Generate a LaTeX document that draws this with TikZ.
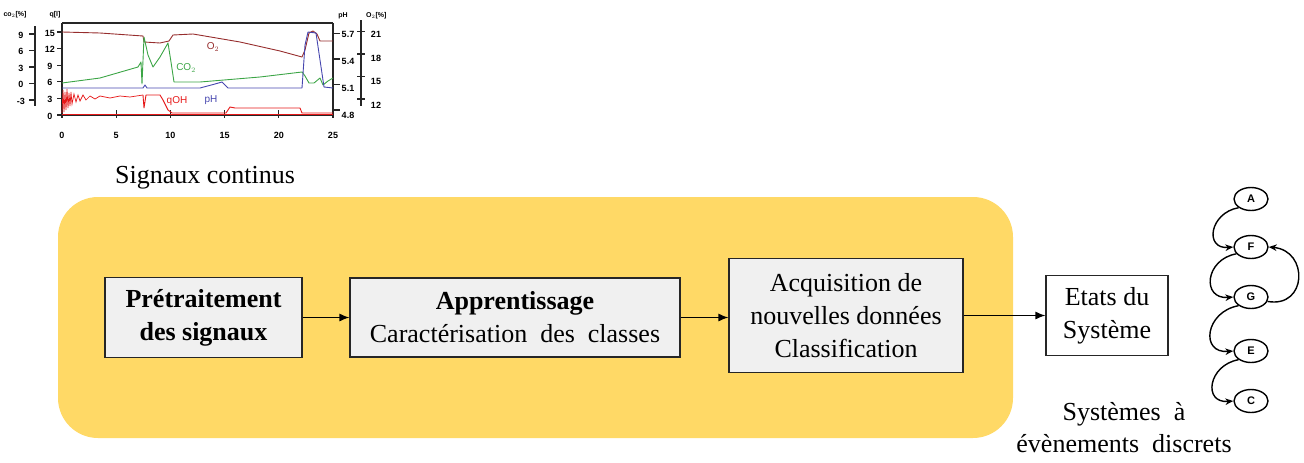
\documentclass[tikz,border=0pt]{standalone}
\usepackage{fontspec}
\setmainfont{Liberation Serif}
\newfontfamily\chartfont{Liberation Sans}
\usetikzlibrary{shapes.geometric,arrows.meta}
\definecolor{gold}{RGB}{255,217,102}
\definecolor{boxgray}{RGB}{240,240,240}
\definecolor{otwo}{RGB}{150,45,45}
\definecolor{cotwo}{RGB}{60,165,70}
\definecolor{phblue}{RGB}{70,70,175}
\definecolor{qred}{RGB}{230,25,25}
\tikzset{
  procbox/.style={draw=black!85, line width=1.1pt, fill=boxgray, align=center, inner sep=0pt,
    font=\fontsize{26}{33}\selectfont},
  flow/.style={line width=1.3pt, -{Latex[length=10pt,width=8pt]}},
  state/.style={ellipse, draw, line width=1.4pt, minimum width=34pt, minimum height=23pt, inner sep=0pt,
    font=\chartfont\bfseries\fontsize{11}{12}\selectfont},
  sedge/.style={line width=1.4pt, -{Stealth[length=8pt,width=6.5pt]}},
  tick/.style={font=\chartfont\bfseries\fontsize{9}{10}\selectfont, inner sep=0pt},
  axisline/.style={line width=1.1pt, black!85},
  curve/.style={line width=0.9pt, line join=round}
}
\begin{document}
\begin{tikzpicture}[x=1pt,y=-1pt]
\useasboundingbox (0,0) rectangle (1304,463);
% yellow zone
\path[fill=gold, rounded corners=40pt] (58,197) rectangle (1013,438);
% chart axes
\draw[axisline] (62,23) -- (333,23);
\draw[axisline] (62,23) -- (62,115) -- (333,115) -- (333,23);
\foreach \k/\lab in {0/0,1/5,2/10,3/15,4/20,5/25}{
  \draw[axisline] ({62+54.2*\k},110) -- ({62+54.2*\k},118);
  \node[tick] (xl\k) at ({62+54.2*\k},135) {\lab};
}
\foreach \k/\lab in {0/0,1/3,2/6,3/9,4/12,5/15}{
  \draw[axisline] (57,{115-16.6*\k}) -- (62,{115-16.6*\k});
  \node[tick] (ql\k) at (50,{116-16.6*\k}) {\lab};
}
\draw[axisline] (35,26) -- (35,106);
\foreach \k/\lab in {0/-3,1/0,2/3,3/6,4/9}{
  \draw[axisline] (29,{100-16.5*\k}) -- (35,{100-16.5*\k});
  \node[tick] (cl\k) at (21,{101-16.5*\k}) {\lab};
}
\foreach \k/\lab in {0/4.8,1/5.1,2/5.4,3/5.7}{
  \draw[axisline] (333,{110-25.5*\k}) -- (340,{110-25.5*\k});
  \node[tick] (pl\k) at (348,{115-27*\k}) {\lab};
}
\draw[axisline] (361,20) -- (361,106);
\foreach \k/\lab in {0/12,1/15,2/18,3/21}{
  \draw[axisline] (357,{99-22.5*\k}) -- (365,{99-22.5*\k});
  \node[tick] (ol\k) at (376,{105-23.5*\k}) {\lab};
}
\node[tick, font=\chartfont\bfseries\fontsize{7}{8}\selectfont] (hco) at (15,15) {co$_2$[\%]};
\node[tick, font=\chartfont\bfseries\fontsize{7}{8}\selectfont] (hq) at (55,15) {q[l]};
\node[tick, font=\chartfont\bfseries\fontsize{7}{8}\selectfont] (hph) at (343,16) {pH};
\node[tick, font=\chartfont\bfseries\fontsize{7}{8}\selectfont, anchor=west] (ho) at (366,16) {O$_2$[\%]};
% O2 curve
\draw[curve, otwo] (62,32) -- (100,33) -- (143,36) -- (144,42) -- (160,43) -- (169,41) -- (173,35) -- (193,34)
  -- (240,42) -- (280,51) -- (302,57) -- (305,50) -- (309,33) -- (313,31) -- (317,34) -- (320,41) -- (333,41);
% CO2 curve
\draw[curve, cotwo] (62,83) -- (100,78) -- (138,67) -- (141,62) -- (142,84) -- (144,37) -- (148,55) -- (153,67)
  -- (160,57) -- (168,43) -- (171,62) -- (174,82) -- (200,82) -- (260,77) -- (302,72) -- (305,76) -- (309,83)
  -- (314,83) -- (320,78) -- (323,85) -- (328,81) -- (333,78);
% pH curve
\draw[curve, phblue] (62,88) -- (143,88) -- (145,85) -- (147,88) -- (200,88) -- (215,84) -- (222,82) -- (228,88)
  -- (302,88) -- (305,45) -- (308,32) -- (316,33) -- (320,60) -- (324,87) -- (333,88);
% qOH curve
\draw[line width=0.7pt, qred] (62,113) -- (63,90) -- (64,112) -- (65,92) -- (66,110) -- (67,89) -- (68,108) -- (69,93)
  -- (70,106) -- (71,92) -- (72,104) -- (74,94) -- (76,102) -- (78,95) -- (80,101) -- (83,95) -- (86,100) -- (90,96)
  -- (95,99) -- (100,96) -- (110,98) -- (120,96) -- (130,97) -- (143,95);
\draw[curve, qred] (143,95) -- (144,108) -- (146,95) -- (160,95) -- (163,100) -- (168,110) -- (172,113)
  -- (190,113) -- (226,113) -- (230,107) -- (235,108) -- (300,108) -- (302,113) -- (333,113);
\draw[curve, qred] (62,114.5) -- (333,114.5);
% curve labels
\node[font=\chartfont\fontsize{10}{11}\selectfont, text=otwo, inner sep=0pt] (lo) at (213,47) {O$_2$};
\node[font=\chartfont\fontsize{10}{11}\selectfont, text=cotwo, inner sep=0pt] (lc) at (186,68) {CO$_2$};
\node[font=\chartfont\fontsize{10}{11}\selectfont, text=qred, inner sep=0pt] (lq) at (177,101) {qOH};
\node[font=\chartfont\fontsize{10}{11}\selectfont, text=phblue, inner sep=0pt] (lp) at (211,100) {pH};
% captions
\node[font=\fontsize{26}{33}\selectfont, inner sep=0pt] (sig) at (205,178) {Signaux continus};
\node[font=\fontsize{26}{32}\selectfont, align=center, inner sep=0pt] (sed) at (1124,428) {Systèmes\ \ à\\évènements\ \ discrets};
% process boxes
\node[procbox, minimum width=197pt, minimum height=80pt] (b1) at (203.5,317.5) {\textbf{Prétraitement}\\\textbf{des signaux}};
\node[procbox, minimum width=330pt, minimum height=79pt] (b2) at (515,317.5) {\textbf{Apprentissage}\\Caractérisation\ \ des\ \ classes};
\node[procbox, minimum width=234pt, minimum height=114pt] (b3) at (846,315.5) {Acquisition de\\nouvelles données\\Classification};
\node[procbox, fill=white, minimum width=122pt, minimum height=80pt] (b4) at (1107,315.5) {Etats du\\Système};
\draw[flow] (b1.east |- 0,317.5) -- (b2.west |- 0,317.5);
\draw[flow] (b2.east |- 0,317.5) -- (b3.west |- 0,317.5);
\draw[flow] (b3.east) -- (b4.west);
% state graph
\node[state] (A) at (1251,199) {A};
\node[state] (F) at (1251,247) {F};
\node[state] (G) at (1251,297) {G};
\node[state] (E) at (1251,351) {E};
\node[state] (C) at (1251,401) {C};
\draw[sedge] (A.215) to[out=190,in=185,looseness=1.9] (F.west);
\draw[sedge] (F.205) to[out=190,in=185,looseness=1.9] (G.west);
\draw[sedge] (G.-15) to[out=-10,in=-5,looseness=1.9] (F.east);
\draw[sedge] (G.215) to[out=190,in=185,looseness=1.9] (E.west);
\draw[sedge] (E.215) to[out=190,in=185,looseness=1.9] (C.west);
\end{tikzpicture}
\end{document}
